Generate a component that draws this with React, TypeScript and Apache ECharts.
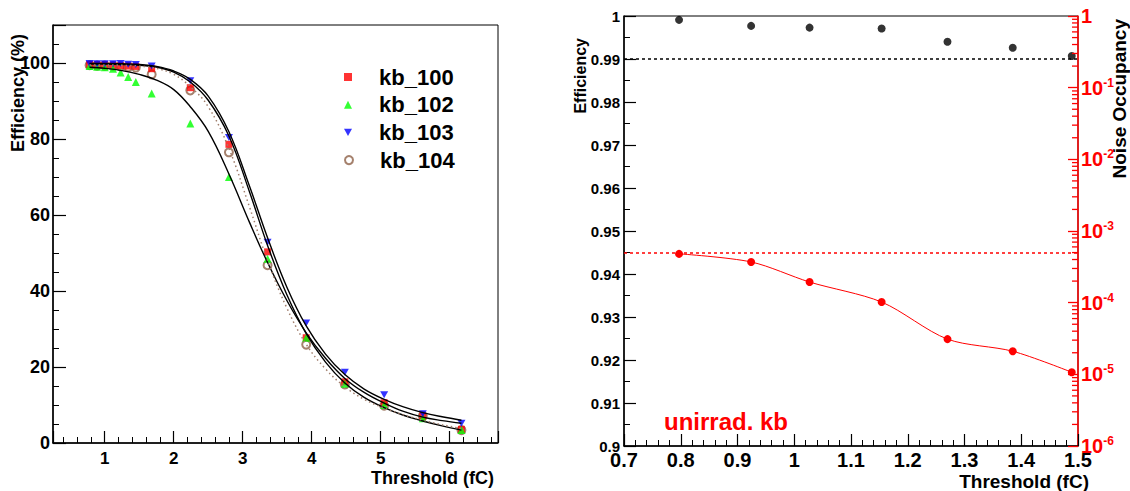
import React, { useEffect, useRef } from 'react';
import * as echarts from 'echarts';

// ---------- Left panel data ----------
const thresholdsLeft = [0.78, 0.89, 1.0, 1.12, 1.23, 1.34, 1.45, 1.68, 2.24, 2.8, 3.36, 3.92, 4.48, 5.05, 5.61, 6.17];
const kb100 = [99.6, 99.5, 99.5, 99.4, 99.3, 99.2, 99.1, 98.5, 93.5, 78.6, 50.3, 27.7, 16.1, 10.6, 7.1, 3.6];
const kb102 = [99.2, 99.0, 98.9, 98.5, 97.5, 96.3, 95.0, 92.0, 84.1, 70.0, 48.5, 27.7, 15.6, 10.0, 6.5, 3.4];
const kb103 = [99.9, 99.8, 99.8, 99.8, 99.9, 99.7, 99.6, 99.2, 95.3, 80.4, 52.8, 31.6, 18.6, 12.7, 7.7, 5.2];
const kb104 = [99.4, 99.3, 99.3, 99.2, 99.1, 98.9, 98.8, 97.0, 92.8, 76.5, 46.8, 25.9, 15.4, 9.8, 7.1, 3.4];

const fitThresholds = [0.78, 1.0, 1.25, 1.5, 1.75, 2.0, 2.24, 2.5, 2.8, 3.1, 3.36, 3.64, 3.92, 4.2, 4.48, 4.76, 5.05, 5.33, 5.61, 5.89, 6.17];
const fit100 = [99.7, 99.7, 99.6, 99.4, 98.9, 97.6, 95.0, 90.2, 80.8, 66.0, 52.0, 39.0, 28.8, 21.3, 15.8, 12.0, 9.3, 7.3, 5.8, 4.5, 3.4];
const fit102 = [98.9, 98.6, 98.0, 97.0, 95.5, 93.0, 88.5, 82.0, 70.8, 58.0, 47.5, 37.5, 29.0, 22.3, 17.0, 13.3, 10.5, 8.3, 6.8, 5.9, 5.2];
const fit103 = [99.9, 99.9, 99.8, 99.6, 99.1, 97.9, 95.7, 91.3, 81.9, 67.5, 54.0, 41.0, 30.8, 23.4, 18.0, 14.2, 11.5, 9.5, 8.0, 6.9, 6.0];
const fit104 = [99.5, 99.5, 99.4, 99.2, 98.6, 97.0, 93.8, 88.5, 77.5, 62.0, 48.0, 35.5, 26.0, 19.5, 14.8, 11.5, 9.2, 7.4, 6.0, 4.8, 3.8];

const legendNames = ['kb_100', 'kb_102', 'kb_103', 'kb_104'];

// ---------- Right panel data ----------
const thresholdRange = [0.7, 1.5];
const thresholdsRight = [0.797, 0.924, 1.027, 1.154, 1.27, 1.385, 1.489];
const efficiency = [0.9991, 0.9977, 0.9973, 0.9971, 0.994, 0.9926, 0.9907];
const noiseOccupancy = [4.8e-4, 3.7e-4, 1.94e-4, 1.02e-4, 3.1e-5, 2.1e-5, 1.07e-5];
const efficiencyLimit = 0.99;
const noiseLimit = 5e-4;

// log-axis minor tick labels (decade exponents and multipliers)
const logDecades = [-6, -5, -4, -3, -2, -1];
const logMinorMultipliers = [2, 3, 4, 5, 6, 7, 8, 9];

const FONT = '"Liberation Sans", Arial, Helvetica, sans-serif';
const pairs = (xs: number[], ys: number[]) => xs.map((x, i) => [x, ys[i]]);

const fitLine = (name: string, ys: number[], dotted = false) => ({
  type: 'line',
  name,
  xAxisIndex: 0,
  yAxisIndex: 0,
  data: pairs(fitThresholds, ys),
  smooth: 0.4,
  showSymbol: false,
  silent: true,
  z: 3,
  lineStyle: dotted
    ? { color: '#a07e6c', width: 1.5, type: [1.5, 3] }
    : { color: '#000', width: 1.4 },
});

export default function App() {
  const ref = useRef<HTMLDivElement>(null);
  useEffect(() => {
    const chart = echarts.init(ref.current as HTMLDivElement, null, { renderer: 'svg' });
    const black = '#000';
    const red = '#ff0000';
    const minorTickData: number[][] = [];
    logDecades.forEach((d) =>
      logMinorMultipliers.forEach((m) => minorTickData.push([thresholdRange[1], m * Math.pow(10, d)]))
    );
    const option: any = {
      animation: false,
      backgroundColor: '#fff',
      textStyle: { fontFamily: FONT },
      grid: [
        { left: 53, top: 25, width: 445, height: 418, show: true, borderColor: black, borderWidth: 1, backgroundColor: 'transparent' },
        { left: 624, top: 16, width: 454, height: 430, show: true, borderColor: black, borderWidth: 1, backgroundColor: 'transparent' },
      ],
      legend: legendNames.map((n, i) => ({
        data: [n],
        left: 339,
        top: 61 + i * 27.7,
        orient: 'vertical',
        itemWidth: 8,
        itemHeight: 8,
        selectedMode: false,
        textStyle: { fontFamily: FONT, fontSize: 22, fontWeight: 'bold', color: black, lineHeight: 22, padding: [0, 0, 0, 22] },
      })),
      xAxis: [
        {
          gridIndex: 0, type: 'value', min: 0.25, max: 6.7, splitNumber: 6,
          axisLine: { onZero: false, lineStyle: { color: black, width: 1.5 } },
          axisTick: { inside: true, length: 12, lineStyle: { color: black, width: 1.2 } },
          minorTick: { show: true, splitNumber: 5, length: 6, lineStyle: { color: black, width: 1 } },
          splitLine: { show: false },
          axisLabel: { fontFamily: FONT, fontSize: 17, fontWeight: 'bold', color: black, margin: 7, showMinLabel: false, showMaxLabel: false },
        },
        {
          gridIndex: 1, type: 'value', min: thresholdRange[0], max: thresholdRange[1], interval: 0.1,
          axisLine: { onZero: false, lineStyle: { color: black, width: 1.5 } },
          axisTick: { inside: true, length: 12, lineStyle: { color: black, width: 1.2 } },
          minorTick: { show: true, splitNumber: 5, length: 6, lineStyle: { color: black, width: 1 } },
          splitLine: { show: false },
          axisLabel: { fontFamily: FONT, fontSize: 20, fontWeight: 'bold', color: black, margin: 4 },
        },
      ],
      yAxis: [
        {
          gridIndex: 0, type: 'value', min: 0, max: 110, interval: 20,
          axisLine: { onZero: false, lineStyle: { color: black, width: 1.5 } },
          axisTick: { inside: true, length: 13, lineStyle: { color: black, width: 1.2 } },
          minorTick: { show: true, splitNumber: 4, length: 6, lineStyle: { color: black, width: 1 } },
          splitLine: { show: false },
          axisLabel: { fontFamily: FONT, fontSize: 18, fontWeight: 'bold', color: black, margin: 3, showMaxLabel: false },
        },
        {
          gridIndex: 1, type: 'value', min: 0.9, max: 1, interval: 0.01, position: 'left',
          axisLine: { onZero: false, lineStyle: { color: black, width: 1.5 } },
          axisTick: { inside: true, length: 12, lineStyle: { color: black, width: 1.2 } },
          minorTick: { show: true, splitNumber: 2, length: 6, lineStyle: { color: black, width: 1 } },
          splitLine: { show: false },
          axisLabel: { fontFamily: FONT, fontSize: 15, fontWeight: 'bold', color: black, margin: 4 },
        },
        {
          gridIndex: 1, type: 'log', logBase: 10, min: 1e-6, max: 1, position: 'right',
          axisLine: { onZero: false, lineStyle: { color: red, width: 1.5 } },
          axisTick: { inside: true, length: 10, lineStyle: { color: red, width: 1.3 } },
          splitLine: { show: false },
          axisLabel: {
            margin: 3,
            formatter: (v: number) => {
              const e = Math.round(Math.log10(v));
              return e === 0 ? '{b|1}' : '{b|10}{s|' + e + '}';
            },
            rich: {
              b: { fontFamily: FONT, fontSize: 20, fontWeight: 'bold', color: red },
              s: { fontFamily: FONT, fontSize: 12, fontWeight: 'bold', color: red, verticalAlign: 'top', padding: [0, 0, 10, 0] },
            },
          },
        },
      ],
      series: [
        {
          type: 'scatter', name: 'kb_104', xAxisIndex: 0, yAxisIndex: 0,
          data: pairs(thresholdsLeft, kb104), symbol: 'emptyCircle', symbolSize: 8,
          itemStyle: { color: '#8e6248', borderWidth: 1.2 }, z: 2,
        },
        {
          type: 'scatter', name: 'kb_100', xAxisIndex: 0, yAxisIndex: 0,
          data: pairs(thresholdsLeft, kb100), symbol: 'rect', symbolSize: 7,
          itemStyle: { color: '#ff0000' }, z: 2,
        },
        {
          type: 'scatter', name: 'kb_102', xAxisIndex: 0, yAxisIndex: 0,
          data: pairs(thresholdsLeft, kb102), symbol: 'triangle', symbolSize: 8,
          itemStyle: { color: '#00ff00' }, z: 2,
        },
        {
          type: 'scatter', name: 'kb_103', xAxisIndex: 0, yAxisIndex: 0,
          data: pairs(thresholdsLeft, kb103), symbol: 'path://M0,0L10,0L5,9Z', symbolSize: [8, 7],
          itemStyle: { color: '#0000ff' }, z: 2,
        },
        fitLine('fit_100', fit100),
        fitLine('fit_102', fit102),
        fitLine('fit_103', fit103),
        fitLine('fit_104', fit104, true),
        {
          type: 'scatter', name: 'Efficiency', xAxisIndex: 1, yAxisIndex: 1,
          data: pairs(thresholdsRight, efficiency), symbol: 'circle', symbolSize: 8,
          itemStyle: { color: black },
          markLine: {
            silent: true, symbol: 'none', label: { show: false },
            lineStyle: { color: black, type: [3, 3], width: 1.6 },
            data: [{ yAxis: efficiencyLimit }],
          },
        },
        {
          type: 'line', name: 'Noise Occupancy', xAxisIndex: 1, yAxisIndex: 2,
          data: pairs(thresholdsRight, noiseOccupancy), symbol: 'circle', symbolSize: 8, showSymbol: true,
          smooth: 0.3,
          itemStyle: { color: red },
          lineStyle: { color: red, width: 1 },
          markLine: {
            silent: true, symbol: 'none', label: { show: false },
            lineStyle: { color: red, type: [3, 3], width: 1.6 },
            data: [[{ coord: [thresholdRange[0], noiseLimit] }, { coord: [thresholdRange[1], noiseLimit] }]],
          },
        },
        {
          type: 'custom', name: 'logMinorTicks', coordinateSystem: 'cartesian2d', xAxisIndex: 1, yAxisIndex: 2,
          data: minorTickData, silent: true, clip: false, z: 10,
          encode: { x: 0, y: 1 },
          renderItem: (_p: any, api: any) => {
            const pt = api.coord([api.value(0), api.value(1)]);
            return {
              type: 'line',
              z2: 10,
              shape: { x1: pt[0] - 6, y1: pt[1], x2: pt[0], y2: pt[1] },
              style: { stroke: red, lineWidth: 1.3, fill: null },
            };
          },
        },
      ],
      graphic: [
        { type: 'text', x: 494, y: 478, style: { text: 'Threshold (fC)', fontFamily: FONT, fontSize: 18, fontWeight: 'bold', fill: black, align: 'right', verticalAlign: 'middle' } },
        { type: 'text', x: 18, y: 34, rotation: Math.PI / 2, style: { text: 'Efficiency (%)', fontFamily: FONT, fontSize: 18, fontWeight: 'bold', fill: black, align: 'right', verticalAlign: 'middle' } },
        { type: 'text', x: 1089, y: 481, style: { text: 'Threshold (fC)', fontFamily: FONT, fontSize: 19, fontWeight: 'bold', fill: black, align: 'right', verticalAlign: 'middle' } },
        { type: 'text', x: 580, y: 38, rotation: Math.PI / 2, style: { text: 'Efficiency', fontFamily: FONT, fontSize: 16, fontWeight: 'bold', fill: black, align: 'right', verticalAlign: 'middle' } },
        { type: 'text', x: 1119, y: 19, rotation: Math.PI / 2, style: { text: 'Noise Occupancy', fontFamily: FONT, fontSize: 19, fontWeight: 'bold', fill: black, align: 'right', verticalAlign: 'middle' } },
        { type: 'text', x: 664, y: 421, style: { text: 'unirrad. kb', fontFamily: FONT, fontSize: 24, fontWeight: 'bold', fill: red, align: 'left', verticalAlign: 'middle' } },
      ],
    };
    chart.setOption(option);
    return () => chart.dispose();
  }, []);
  return (
    <div
      ref={ref}
      style={{ position: 'fixed', left: 0, top: 0, width: 1130, height: 491, background: '#fff' }}
    />
  );
}
